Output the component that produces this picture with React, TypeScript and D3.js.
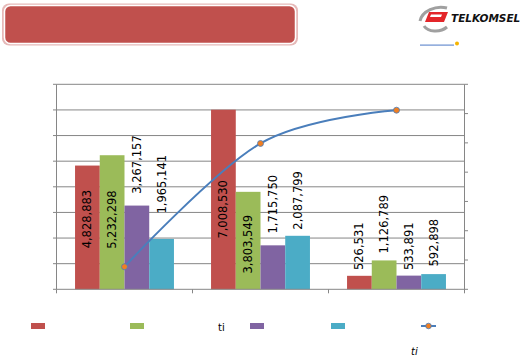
import React from "react";
import * as d3 from "d3";

const categories = ["C1", "C2", "C3"];
const seriesNames = ["S1", "S2", "S3", "S4"];
const seriesColors = ["#c0504d", "#9bbb59", "#8064a2", "#4bacc6"];
const values = [
  [4828883, 7008530, 526531],
  [5232298, 3803549, 1126789],
  [3267157, 1715750, 533891],
  [1965141, 2087799, 592898],
];
// label centre positions (in value units) as placed in the original
const labelCenters = [
  [2740000, 3120000, 1680000],
  [2720000, 1760000, 2540000],
  [4870000, 3320000, 1680000],
  [4100000, 3470000, 1820000],
];
const lineValues = [15.4, 99.6, 122.3];
const yTicks = [0, 1e6, 2e6, 3e6, 4e6, 5e6, 6e6, 7e6, 8e6];
const y2Ticks = [0, 20, 40, 60, 80, 100, 120, 140];
const legendFragments = ["ti", "ti"];

const W = 525;
const H = 356;
const left = 56.5;
const right = 464.5;
const top = 84.3;
const bottom = 289.3;
const font = "DejaVu Sans, sans-serif";

export default function App() {
  const x = d3.scaleBand<string>().domain(categories).range([left, right]).paddingInner(0).paddingOuter(0);
  const bw = x.bandwidth() / 5.5;
  const xs = d3.scaleBand<string>().domain(seriesNames).range([0.75 * bw, 4.75 * bw]);
  const y = d3.scaleLinear().domain([0, 8e6]).range([bottom, top]);
  const y2 = d3.scaleLinear().domain([0, 140]).range([bottom, top]);
  const fmt = d3.format(",");
  const cx = (c: string) => (x(c) as number) + x.bandwidth() / 2;
  const line = d3
    .line<number>()
    .x((_, i) => cx(categories[i]))
    .y((d) => y2(d))
    .curve(d3.curveCatmullRom.alpha(0));

  const legendX = [31, 130, 250, 331];

  return (
    <div style={{ position: "fixed", left: 0, top: 0, width: W, height: H, background: "#fff" }}>
      <svg width={W} height={H} style={{ display: "block" }}>
        <rect width={W} height={H} fill="#fff" />
        {/* title box */}
        <rect x={2} y={3.5} width={296} height={42} rx={7} fill="#e6b9b8" />
        <rect x={4.5} y={5.5} width={291} height={38} rx={6} fill="#c0504d" stroke="#fff" strokeWidth={1.5} />
        {/* logo */}
        <g>
          <path d="M420,21 C422,11 436,5 447,8" fill="none" stroke="#a0a0a0" strokeWidth={3} />
          <path d="M424,26 C428,32 440,33 447,27" fill="none" stroke="#a0a0a0" strokeWidth={3} />
          <path d="M429,12 L448,12 L444,22 L425,22 Z" fill="#e3262a" />
          <path d="M431,14.5 L442,14.5 L441,17 L430,17 Z" fill="#fff" />
          <text x={451} y={22} fontFamily={font} fontSize={10.5} fontWeight="bold" fontStyle="italic" fill="#111">
            TELKOMSEL
          </text>
          <rect x={420} y={44.5} width={34} height={1.2} fill="#6a8fd0" />
          <circle cx={457} cy={43.5} r={2} fill="#f5b400" />
        </g>
        {/* gridlines */}
        {yTicks.slice(1).map((t) => (
          <line key={t} x1={left} x2={right} y1={y(t)} y2={y(t)} stroke="#868686" strokeWidth={1} />
        ))}
        {/* left axis */}
        <line x1={left} x2={left} y1={top} y2={bottom} stroke="#868686" />
        {yTicks.map((t) => (
          <line key={t} x1={left - 3.5} x2={left} y1={y(t)} y2={y(t)} stroke="#868686" />
        ))}
        {/* right axis */}
        <line x1={right} x2={right} y1={top} y2={bottom + 1} stroke="#868686" />
        {y2Ticks.map((t) => (
          <line key={t} x1={right} x2={right + 3.5} y1={y2(t)} y2={y2(t)} stroke="#868686" />
        ))}
        {/* bars */}
        {values.map((sv, si) =>
          sv.map((v, ci) => (
            <rect
              key={si + "-" + ci}
              x={(x(categories[ci]) as number) + (xs(seriesNames[si]) as number)}
              y={y(v)}
              width={xs.bandwidth()}
              height={bottom - y(v)}
              fill={seriesColors[si]}
            />
          ))
        )}
        {/* bottom axis */}
        <line x1={left} x2={right} y1={bottom} y2={bottom} stroke="#868686" />
        {[left, ...categories.map((c) => (x(c) as number) + x.bandwidth())].map((px, i) => (
          <line key={i} x1={px} x2={px} y1={bottom} y2={bottom + 4} stroke="#868686" />
        ))}
        {/* labels */}
        {values.map((sv, si) =>
          sv.map((v, ci) => {
            const lx = (x(categories[ci]) as number) + (xs(seriesNames[si]) as number) + xs.bandwidth() / 2;
            const ly = y(labelCenters[si][ci]);
            return (
              <text
                key={"l" + si + "-" + ci}
                transform={`translate(${lx},${ly}) rotate(-90)`}
                textAnchor="middle"
                dominantBaseline="central"
                fontFamily={font}
                fontSize={11.5}
                fill="#000"
              >
                {fmt(v)}
              </text>
            );
          })
        )}
        {/* line */}
        <path d={line(lineValues) || ""} fill="none" stroke="#4a7ebb" strokeWidth={2} />
        {lineValues.map((v, i) => (
          <circle key={i} cx={cx(categories[i])} cy={y2(v)} r={3} fill="#f07f22" stroke="#4a7ebb" strokeWidth={0.8} />
        ))}
        {/* legend */}
        {seriesColors.map((c, i) => (
          <rect key={c} x={legendX[i]} y={323} width={14} height={6} fill={c} />
        ))}
        <line x1={421} x2={436} y1={326} y2={326} stroke="#4a7ebb" strokeWidth={2} />
        <circle cx={428.5} cy={326} r={2.8} fill="#f07f22" stroke="#4a7ebb" strokeWidth={0.8} />
        <text x={218} y={331} fontFamily={font} fontSize={10} fill="#000">
          {legendFragments[0]}
        </text>
        <text x={411} y={355} fontFamily={font} fontSize={10} fontStyle="italic" fill="#000">
          {legendFragments[1]}
        </text>
      </svg>
    </div>
  );
}
